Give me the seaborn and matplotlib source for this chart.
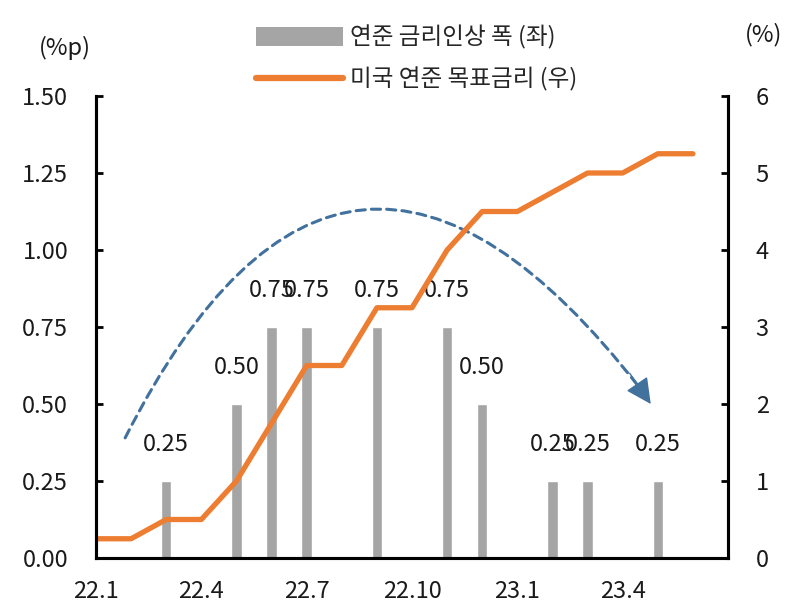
import numpy as np
import pandas as pd
import seaborn as sns
import matplotlib.pyplot as plt
from matplotlib.patches import Patch
from matplotlib.lines import Line2D

# months on the x axis (22.1 ~ 23.6)
months = ['22.1', '22.2', '22.3', '22.4', '22.5', '22.6', '22.7', '22.8', '22.9',
          '22.10', '22.11', '22.12', '23.1', '23.2', '23.3', '23.4', '23.5', '23.6']
# fed funds target rate, upper bound (%)
target_rate = [0.25, 0.25, 0.50, 0.50, 1.00, 1.75, 2.50, 2.50, 3.25,
               3.25, 4.00, 4.50, 4.50, 4.75, 5.00, 5.00, 5.25, 5.25]
# hike months and size (%p)
hike_months = ['22.3', '22.5', '22.6', '22.7', '22.9', '22.11', '22.12', '23.2', '23.3', '23.5']
hike_size = [0.25, 0.50, 0.75, 0.75, 0.75, 0.75, 0.50, 0.25, 0.25, 0.25]

bar_label = '연준 금리인상 폭 (좌)'
line_label = '미국 연준 목표금리 (우)'

GRAY = '#A5A5A5'
ORANGE = '#ED7D31'
BLUE = '#41719C'
TXT = '#1a1a1a'
FS = 17

sns.set_style('white')
plt.rcParams['font.family'] = ['Noto Sans CJK KR', 'DejaVu Sans']

df_line = pd.DataFrame({'month': months, 'rate': target_rate})
df_line['idx'] = range(len(months))
df_bar = pd.DataFrame({'month': hike_months, 'size': hike_size})
df_bar['idx'] = df_bar['month'].map({m: i for i, m in enumerate(months)})

fig = plt.figure(figsize=(8.05, 6.09), dpi=100)
ax = fig.add_axes([96 / 805, 51 / 609, 632 / 805, 462 / 609])

sns.barplot(data=df_bar, x='idx', y='size', native_scale=True, width=0.3,
            color=GRAY, saturation=1, ax=ax)
ax.bar_label(ax.containers[0], fmt='%.2f', padding=18, fontsize=FS, color=TXT)

ax2 = ax.twinx()
sns.lineplot(data=df_line, x='idx', y='rate', color=ORANGE, linewidth=3.8, ax=ax2)

ax.set_xlim(0, 18)
ax.set_ylim(0, 1.5)
ax2.set_ylim(0, 6)
ax.set_yticks(np.arange(0, 1.51, 0.25))
ax.set_yticklabels([f'{v:.2f}' for v in np.arange(0, 1.51, 0.25)])
ax2.set_yticks(range(0, 7))
ax.set_xticks(df_line['idx'][::3])
ax.set_xticklabels(months[::3])
ax.set_xlabel('')
ax.set_ylabel('')
ax2.set_xlabel('')
ax2.set_ylabel('')

for a in (ax, ax2):
    a.spines['top'].set_visible(False)
    for s in ('left', 'right', 'bottom'):
        a.spines[s].set_linewidth(2.2)
        a.spines[s].set_color('black')
ax.tick_params(axis='both', direction='in', length=5, width=2, labelsize=FS,
               colors='black', labelcolor=TXT)
ax.tick_params(axis='x', pad=16)
ax.tick_params(axis='y', pad=20)
ax2.tick_params(axis='y', direction='in', length=5, width=2, labelsize=FS,
                colors='black', labelcolor=TXT, pad=20)

# dashed curved arrow (rise then slowdown) + solid head
ax.annotate('', xy=(15.5, 0.55), xytext=(0.83, 0.39),
            arrowprops=dict(arrowstyle='-', connectionstyle='arc3,rad=-0.79',
                            color=BLUE, linestyle=(0, (3, 2)), linewidth=2.2,
                            shrinkA=0, shrinkB=0))
ax.annotate('', xy=(15.8, 0.50), xytext=(15.2, 0.60),
            arrowprops=dict(arrowstyle='-|>,head_length=1.6,head_width=0.8',
                            color=BLUE, linewidth=1.0, shrinkA=0, shrinkB=0))

fig.text(65 / 805, 1 - 48 / 609, '(%p)', fontsize=FS, ha='center', va='center', color=TXT)
fig.text(764 / 805, 1 - 35 / 609, '(%)', fontsize=FS, ha='center', va='center', color=TXT)

handles = [Patch(facecolor=GRAY, edgecolor='none', label=bar_label),
           Line2D([0], [0], color=ORANGE, linewidth=4.5, label=line_label)]
fig.legend(handles=handles, loc='upper left', bbox_to_anchor=(256 / 805, 1 - 25 / 609),
           frameon=False, fontsize=17, handlelength=3.7, handleheight=0.85,
           handletextpad=0.3, labelspacing=0.75, borderpad=0, borderaxespad=0)

fig.savefig('out.png', dpi=100)
